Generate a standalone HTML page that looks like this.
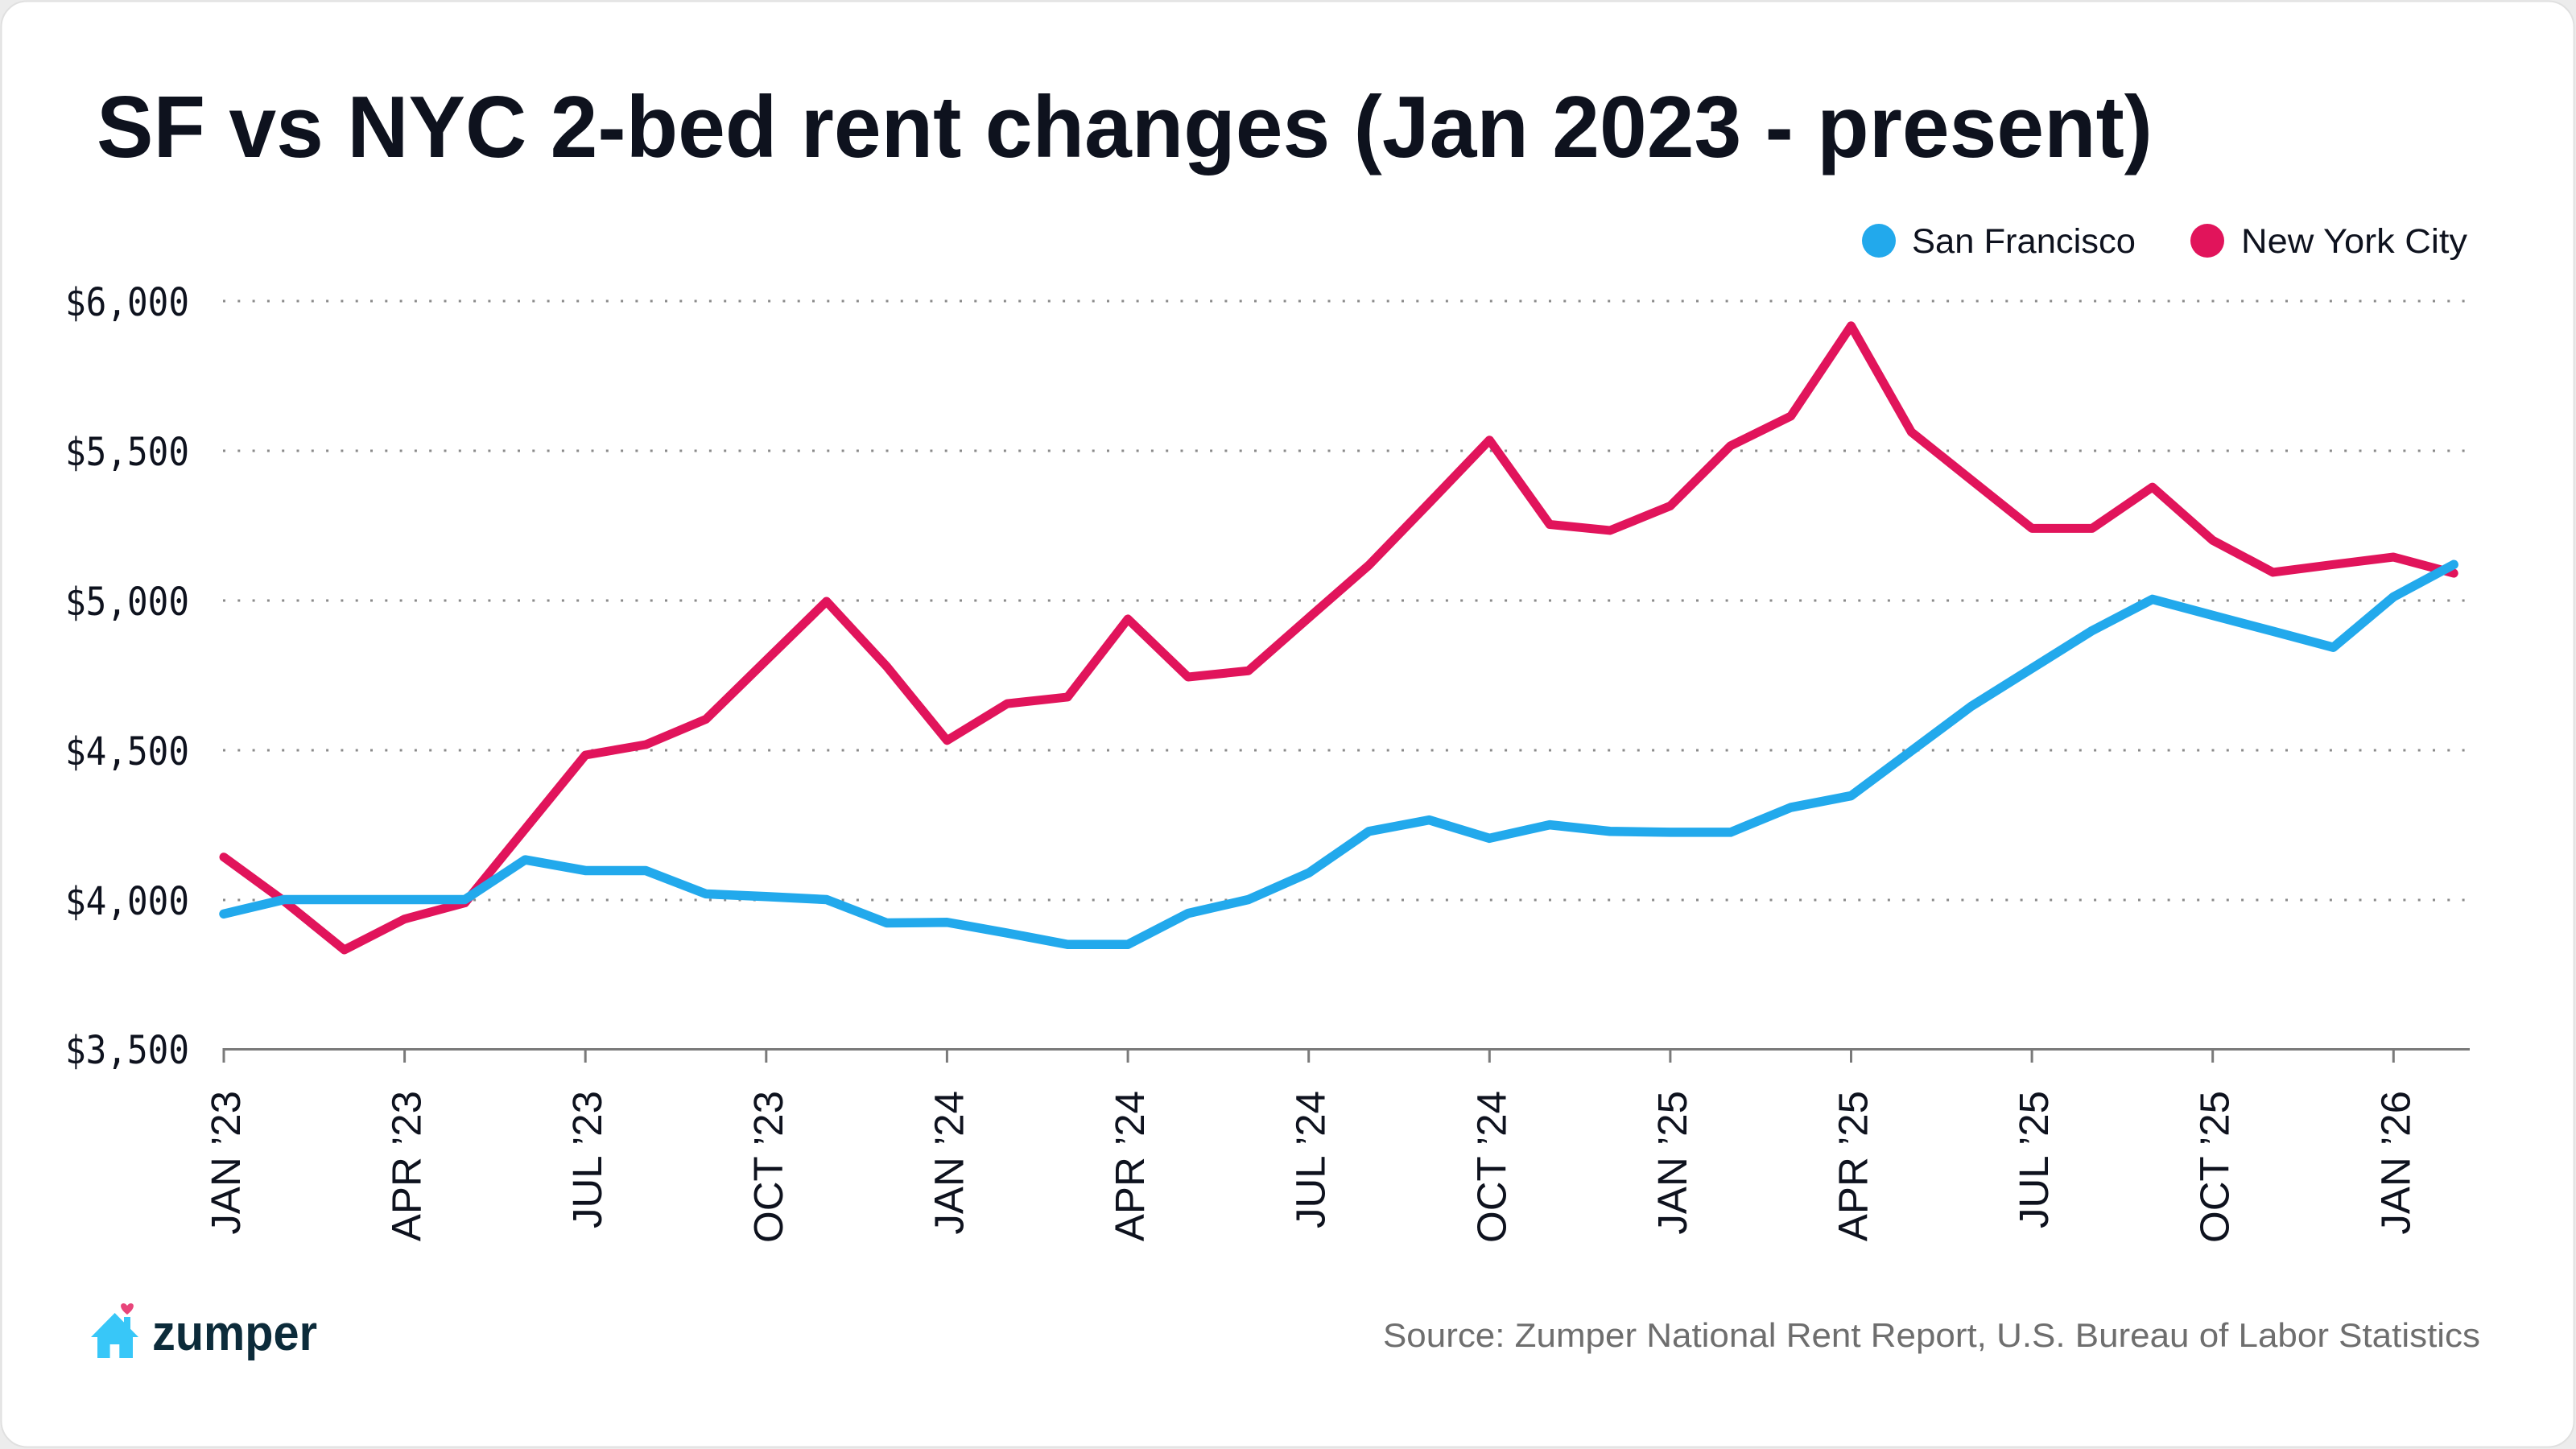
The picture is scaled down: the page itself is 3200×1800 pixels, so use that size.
<!DOCTYPE html>
<html>
<head>
<meta charset="utf-8">
<style>
  html, body { margin: 0; padding: 0; background: #ececec; }
  svg { display: block; }
</style>
</head>
<body>
<svg xmlns="http://www.w3.org/2000/svg" width="3200" height="1800" viewBox="0 0 3200 1800">
  <rect x="0" y="0" width="3200" height="1800" fill="#ececec"/>
  <rect x="1.5" y="1.5" width="3196" height="1796" rx="32" ry="32" fill="#ffffff" stroke="#e0e0e0" stroke-width="2"/>

  <!-- Title -->
  <text x="120" y="195" font-family="'Liberation Sans', sans-serif" font-weight="bold" font-size="109" fill="#0e121e" textLength="2554" lengthAdjust="spacingAndGlyphs">SF vs NYC 2-bed rent changes (Jan 2023 - present)</text>

  <!-- Legend -->
  <circle cx="2334" cy="299" r="21" fill="#22a9ec"/>
  <text x="2375" y="314" font-family="'Liberation Sans', sans-serif" font-size="43" fill="#0e121e" textLength="278" lengthAdjust="spacingAndGlyphs">San Francisco</text>
  <circle cx="2742" cy="299" r="21" fill="#e1145b"/>
  <text x="2784" y="314" font-family="'Liberation Sans', sans-serif" font-size="43" fill="#0e121e" textLength="281" lengthAdjust="spacingAndGlyphs">New York City</text>

  <!-- Grid lines -->
  <g stroke="#8a8a8a" stroke-width="3" stroke-dasharray="3 15.3" fill="none">
    <line x1="277" y1="374" x2="3068" y2="374"/>
    <line x1="277" y1="560" x2="3068" y2="560"/>
    <line x1="277" y1="746" x2="3068" y2="746"/>
    <line x1="277" y1="932" x2="3068" y2="932"/>
    <line x1="277" y1="1118" x2="3068" y2="1118"/>
  </g>

  <!-- Y labels -->
  <g font-family="'DejaVu Sans Mono', 'Liberation Mono', monospace" font-size="48" fill="#0e121e" text-anchor="end">
    <text x="235" y="392" textLength="154" lengthAdjust="spacingAndGlyphs">$6,000</text>
    <text x="235" y="578" textLength="154" lengthAdjust="spacingAndGlyphs">$5,500</text>
    <text x="235" y="764" textLength="154" lengthAdjust="spacingAndGlyphs">$5,000</text>
    <text x="235" y="950" textLength="154" lengthAdjust="spacingAndGlyphs">$4,500</text>
    <text x="235" y="1136" textLength="154" lengthAdjust="spacingAndGlyphs">$4,000</text>
    <text x="235" y="1321" textLength="154" lengthAdjust="spacingAndGlyphs">$3,500</text>
  </g>

  <!-- X axis -->
  <line x1="276.5" y1="1303.5" x2="3068" y2="1303.5" stroke="#7a7a7a" stroke-width="3"/>
  <g stroke="#7a7a7a" stroke-width="3">
    <line x1="278" y1="1303" x2="278" y2="1320"/>
    <line x1="502.6" y1="1303" x2="502.6" y2="1320"/>
    <line x1="727.2" y1="1303" x2="727.2" y2="1320"/>
    <line x1="951.8" y1="1303" x2="951.8" y2="1320"/>
    <line x1="1176.4" y1="1303" x2="1176.4" y2="1320"/>
    <line x1="1401.1" y1="1303" x2="1401.1" y2="1320"/>
    <line x1="1625.7" y1="1303" x2="1625.7" y2="1320"/>
    <line x1="1850.3" y1="1303" x2="1850.3" y2="1320"/>
    <line x1="2074.9" y1="1303" x2="2074.9" y2="1320"/>
    <line x1="2299.5" y1="1303" x2="2299.5" y2="1320"/>
    <line x1="2524.1" y1="1303" x2="2524.1" y2="1320"/>
    <line x1="2748.7" y1="1303" x2="2748.7" y2="1320"/>
    <line x1="2973.3" y1="1303" x2="2973.3" y2="1320"/>
  </g>

  <!-- X labels -->
  <g font-family="'Liberation Sans', sans-serif" font-size="51" fill="#0e121e" text-anchor="end">
    <text transform="translate(298,1355) rotate(-90)">JAN ’23</text>
    <text transform="translate(522.6,1355) rotate(-90)">APR ’23</text>
    <text transform="translate(747.2,1355) rotate(-90)">JUL ’23</text>
    <text transform="translate(971.8,1355) rotate(-90)">OCT ’23</text>
    <text transform="translate(1196.4,1355) rotate(-90)">JAN ’24</text>
    <text transform="translate(1421.1,1355) rotate(-90)">APR ’24</text>
    <text transform="translate(1645.7,1355) rotate(-90)">JUL ’24</text>
    <text transform="translate(1870.3,1355) rotate(-90)">OCT ’24</text>
    <text transform="translate(2094.9,1355) rotate(-90)">JAN ’25</text>
    <text transform="translate(2319.5,1355) rotate(-90)">APR ’25</text>
    <text transform="translate(2544.1,1355) rotate(-90)">JUL ’25</text>
    <text transform="translate(2768.7,1355) rotate(-90)">OCT ’25</text>
    <text transform="translate(2993.3,1355) rotate(-90)">JAN ’26</text>
  </g>

  <!-- Series -->
  <g transform="matrix(74.87 0 0 -0.3716 278 2603.9)" fill="none" stroke-linejoin="round" stroke-linecap="round">
    <polyline vector-effect="non-scaling-stroke" stroke="#e1145b" stroke-width="11"
      points="0,4142 1,3995 2,3832 3,3935 4,3989 5,4236 6,4483 7,4518 8,4603 9,4800 10,4997 11,4779 12,4532 13,4655 14,4677 15,4938 16,4744 17,4765 18,4942 19,5118 20,5326 21,5536 22,5254 23,5234 24,5316 25,5517 26,5616 27,5918 28,5563 29,5402 30,5241 31,5241 32,5379 33,5201 34,5094 35,5120 36,5145 37,5091"/>
    <polyline vector-effect="non-scaling-stroke" stroke="#22a9ec" stroke-width="11.5"
      points="0,3952 1,4000 2,4000 3,4000 4,4000 5,4133 6,4097 7,4097 8,4019 9,4010 10,4000 11,3922 12,3924 13,3888 14,3850 15,3850 16,3954 17,4000 18,4089 19,4228 20,4266 21,4205 22,4250 23,4228 24,4225 25,4225 26,4308 27,4347 28,4497 29,4647 30,4773 31,4899 32,5004 33,4950 34,4897 35,4843 36,5012 37,5120"/>
  </g>

  <!-- Logo -->
  <g>
    <polygon points="113,1661 142.6,1631 172,1661" fill="#38c7f8"/>
    <rect x="154" y="1636" width="8" height="18" fill="#38c7f8"/>
    <rect x="121" y="1658" width="44" height="29" fill="#38c7f8"/>
    <rect x="136.6" y="1670" width="11.7" height="17" fill="#ffffff"/>
    <path d="M158,1633 C150,1627 149,1622 151,1620 C153,1618 156,1619 158,1622 C160,1619 163,1618 165,1620 C167,1622 166,1627 158,1633 Z" fill="#e8457a"/>
    <text x="189" y="1677" font-family="'Liberation Sans', sans-serif" font-weight="bold" font-size="62" fill="#0c2b3a" textLength="205" lengthAdjust="spacingAndGlyphs">zumper</text>
  </g>

  <!-- Source -->
  <text x="1718" y="1673" font-family="'Liberation Sans', sans-serif" font-size="42" fill="#6e6e6e" textLength="1363" lengthAdjust="spacingAndGlyphs">Source: Zumper National Rent Report, U.S. Bureau of Labor Statistics</text>
</svg>
</body>
</html>
